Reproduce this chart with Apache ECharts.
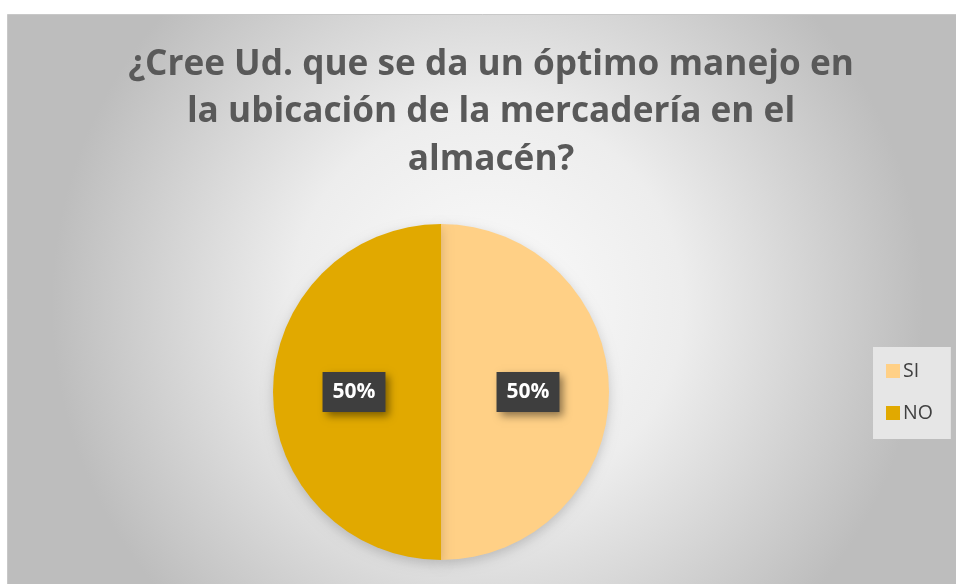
<!DOCTYPE html>
<html><head><meta charset="utf-8">
<script src="https://cdn.jsdelivr.net/npm/echarts@6/dist/echarts.min.js"></script>
<style>html,body{margin:0;padding:0;background:#fff}#c{width:956px;height:584px}</style>
</head><body><div id="c"></div>
<script>
const titleText = '¿Cree Ud. que se da un óptimo manejo en\nla ubicación de la mercadería en el\nalmacén?';
const categories = ['SI', 'NO'];
const values = [50, 50];
const colors = ['#FFD086', '#E1A900'];

const chart = echarts.init(document.getElementById('c'), null, {renderer: 'canvas'});
chart.setOption({
  animation: false,
  graphic: [{
    type: 'rect', z: -10, silent: true,
    shape: {x: 7.5, y: 14.5, width: 960, height: 580},
    style: {
      fill: new echarts.graphic.RadialGradient(0.5, 0.5, 0.75, [
        {offset: 0, color: '#fbfbfb'},
        {offset: 0.45, color: '#ededed'},
        {offset: 1, color: '#bdbdbd'}
      ]),
      stroke: '#c8c8c8', lineWidth: 1
    }
  }],
  title: {
    text: titleText,
    left: 486, textAlign: 'center', top: 36,
    textStyle: {fontFamily: 'Open Sans', fontWeight: 'bold', fontSize: 35.2, color: '#595959', lineHeight: 47.5}
  },
  legend: {
    orient: 'vertical', left: 873, top: 347,
    backgroundColor: '#e6e6e6',
    padding: [14, 18, 16, 13],
    itemWidth: 14, itemHeight: 14, itemGap: 22,
    icon: 'rect',
    textStyle: {fontFamily: 'Open Sans', fontSize: 19.5, color: '#404040', padding: [0, 0, 0, -2]},
    data: categories
  },
  series: [{
    type: 'pie',
    center: [441, 392], radius: 168,
    startAngle: 90, clockwise: true,
    itemStyle: {shadowBlur: 12, shadowColor: 'rgba(0,0,0,0.18)', shadowOffsetY: 4},
    label: {
      show: true, position: 'inside',
      formatter: '{d}%',
      fontFamily: 'Open Sans', fontWeight: 'bold', fontSize: 21, color: '#ffffff',
      backgroundColor: '#3e3e3e',
      padding: [10, 10, 9, 10],
      shadowColor: 'rgba(0,0,0,0.45)', shadowBlur: 8, shadowOffsetX: 4, shadowOffsetY: 4
    },
    labelLine: {show: false},
    data: categories.map((c, i) => ({name: c, value: values[i], itemStyle: {color: colors[i]}}))
  }]
});
</script></body></html>
